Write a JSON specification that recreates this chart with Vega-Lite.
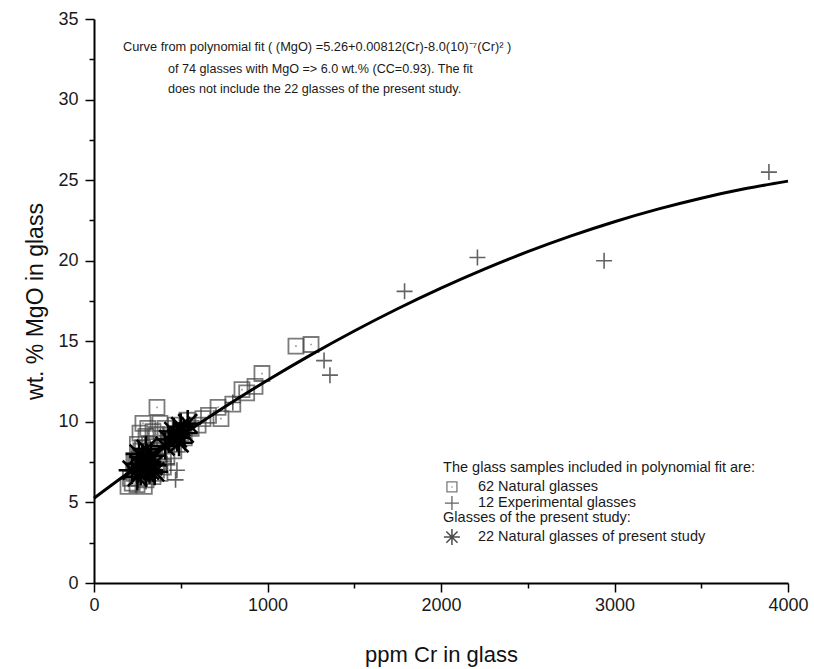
{
  "$schema": "https://vega.github.io/schema/vega-lite/v6.json",
  "width": 694,
  "height": 564,
  "autosize": {"type": "none"},
  "padding": {"left": 94, "top": 19, "right": 26, "bottom": 86},
  "background": "white",
  "config": {
    "view": {"stroke": null},
    "font": "Liberation Sans",
    "text": {"font": "Liberation Sans", "color": "#1a1a1a"}
  },
  "datasets": {
    "glasses": [
      {"group": "natural", "cr": 1164, "mgo": 14.7},
      {"group": "natural", "cr": 1251, "mgo": 14.8},
      {"group": "natural", "cr": 968, "mgo": 13.0},
      {"group": "natural", "cr": 928, "mgo": 12.2},
      {"group": "natural", "cr": 853, "mgo": 12.0},
      {"group": "natural", "cr": 715, "mgo": 10.9},
      {"group": "natural", "cr": 732, "mgo": 10.2},
      {"group": "natural", "cr": 628, "mgo": 10.2},
      {"group": "natural", "cr": 536, "mgo": 10.1},
      {"group": "natural", "cr": 560, "mgo": 9.6},
      {"group": "natural", "cr": 500, "mgo": 9.3},
      {"group": "natural", "cr": 470, "mgo": 9.8},
      {"group": "natural", "cr": 440, "mgo": 9.2},
      {"group": "natural", "cr": 410, "mgo": 9.6},
      {"group": "natural", "cr": 363, "mgo": 10.9},
      {"group": "natural", "cr": 380, "mgo": 9.9},
      {"group": "natural", "cr": 340, "mgo": 9.4},
      {"group": "natural", "cr": 282, "mgo": 9.9},
      {"group": "natural", "cr": 265, "mgo": 9.3},
      {"group": "natural", "cr": 300, "mgo": 9.1},
      {"group": "natural", "cr": 250, "mgo": 8.6},
      {"group": "natural", "cr": 280, "mgo": 8.4},
      {"group": "natural", "cr": 320, "mgo": 8.6},
      {"group": "natural", "cr": 350, "mgo": 8.2},
      {"group": "natural", "cr": 390, "mgo": 8.5},
      {"group": "natural", "cr": 430, "mgo": 8.8},
      {"group": "natural", "cr": 260, "mgo": 7.9},
      {"group": "natural", "cr": 300, "mgo": 7.7},
      {"group": "natural", "cr": 340, "mgo": 7.8},
      {"group": "natural", "cr": 370, "mgo": 7.5},
      {"group": "natural", "cr": 240, "mgo": 7.4},
      {"group": "natural", "cr": 280, "mgo": 7.1},
      {"group": "natural", "cr": 320, "mgo": 7.3},
      {"group": "natural", "cr": 360, "mgo": 7.0},
      {"group": "natural", "cr": 400, "mgo": 7.2},
      {"group": "natural", "cr": 420, "mgo": 7.8},
      {"group": "natural", "cr": 460, "mgo": 8.2},
      {"group": "natural", "cr": 230, "mgo": 6.8},
      {"group": "natural", "cr": 260, "mgo": 6.5},
      {"group": "natural", "cr": 300, "mgo": 6.4},
      {"group": "natural", "cr": 340, "mgo": 6.6},
      {"group": "natural", "cr": 196, "mgo": 6.0},
      {"group": "natural", "cr": 248, "mgo": 6.1},
      {"group": "natural", "cr": 290, "mgo": 6.0},
      {"group": "natural", "cr": 380, "mgo": 6.8},
      {"group": "natural", "cr": 600, "mgo": 9.8},
      {"group": "natural", "cr": 660, "mgo": 10.4},
      {"group": "natural", "cr": 800, "mgo": 11.1},
      {"group": "natural", "cr": 880, "mgo": 11.8},
      {"group": "natural", "cr": 210, "mgo": 6.5},
      {"group": "natural", "cr": 230, "mgo": 7.6},
      {"group": "natural", "cr": 270, "mgo": 8.2},
      {"group": "natural", "cr": 310, "mgo": 9.6},
      {"group": "natural", "cr": 330, "mgo": 8.0},
      {"group": "natural", "cr": 450, "mgo": 9.0},
      {"group": "natural", "cr": 480, "mgo": 8.6},
      {"group": "natural", "cr": 520, "mgo": 9.0},
      {"group": "natural", "cr": 400, "mgo": 8.0},
      {"group": "natural", "cr": 360, "mgo": 9.2},
      {"group": "natural", "cr": 290, "mgo": 6.9},
      {"group": "natural", "cr": 250, "mgo": 7.2},
      {"group": "natural", "cr": 220, "mgo": 6.2},
      {"group": "experimental", "cr": 3890, "mgo": 25.5},
      {"group": "experimental", "cr": 2940, "mgo": 20.0},
      {"group": "experimental", "cr": 2210, "mgo": 20.2},
      {"group": "experimental", "cr": 1790, "mgo": 18.1},
      {"group": "experimental", "cr": 1326, "mgo": 13.8},
      {"group": "experimental", "cr": 1360, "mgo": 12.9},
      {"group": "experimental", "cr": 800, "mgo": 11.2},
      {"group": "experimental", "cr": 478, "mgo": 7.0},
      {"group": "experimental", "cr": 470, "mgo": 6.4},
      {"group": "experimental", "cr": 420, "mgo": 7.4},
      {"group": "experimental", "cr": 350, "mgo": 6.8},
      {"group": "experimental", "cr": 300, "mgo": 6.3},
      {"group": "present", "cr": 220, "mgo": 7.0},
      {"group": "present", "cr": 250, "mgo": 6.6},
      {"group": "present", "cr": 260, "mgo": 7.4},
      {"group": "present", "cr": 270, "mgo": 6.9},
      {"group": "present", "cr": 280, "mgo": 7.8},
      {"group": "present", "cr": 290, "mgo": 7.2},
      {"group": "present", "cr": 300, "mgo": 6.8},
      {"group": "present", "cr": 310, "mgo": 7.5},
      {"group": "present", "cr": 320, "mgo": 7.0},
      {"group": "present", "cr": 330, "mgo": 7.9},
      {"group": "present", "cr": 340, "mgo": 7.3},
      {"group": "present", "cr": 350, "mgo": 6.9},
      {"group": "present", "cr": 300, "mgo": 8.3},
      {"group": "present", "cr": 260, "mgo": 8.0},
      {"group": "present", "cr": 430, "mgo": 8.9},
      {"group": "present", "cr": 460, "mgo": 9.4},
      {"group": "present", "cr": 480, "mgo": 9.0},
      {"group": "present", "cr": 500, "mgo": 9.7},
      {"group": "present", "cr": 520, "mgo": 9.3},
      {"group": "present", "cr": 540, "mgo": 9.9},
      {"group": "present", "cr": 490, "mgo": 8.7},
      {"group": "present", "cr": 410, "mgo": 8.5}
    ],
    "fit": [
      {"cr": 0, "mgo": 5.26},
      {"cr": 250, "mgo": 7.24},
      {"cr": 500, "mgo": 9.12},
      {"cr": 750, "mgo": 10.9},
      {"cr": 1000, "mgo": 12.58},
      {"cr": 1250, "mgo": 14.16},
      {"cr": 1500, "mgo": 15.64},
      {"cr": 1750, "mgo": 17.02},
      {"cr": 2000, "mgo": 18.3},
      {"cr": 2250, "mgo": 19.48},
      {"cr": 2500, "mgo": 20.56},
      {"cr": 2750, "mgo": 21.54},
      {"cr": 3000, "mgo": 22.42},
      {"cr": 3250, "mgo": 23.2},
      {"cr": 3500, "mgo": 23.88},
      {"cr": 3750, "mgo": 24.46},
      {"cr": 4000, "mgo": 24.94}
    ],
    "one": [{}]
  },
  "layer": [
    {
      "data": {"name": "glasses"},
      "transform": [{"filter": "datum.group === 'natural'"}],
      "mark": {"type": "point", "shape": "square", "filled": false, "size": 225, "stroke": "#444", "strokeWidth": 1.8, "clip": false},
      "encoding": {
        "x": {
          "field": "cr", "type": "quantitative",
          "scale": {"domain": [0, 4000], "nice": false, "zero": true},
          "axis": {
            "title": "ppm Cr in glass",
            "titleFont": "Liberation Sans", "titleFontSize": 22, "titleFontWeight": "normal", "titleColor": "#111", "titlePadding": 30,
            "values": [0, 500, 1000, 1500, 2000, 2500, 3000, 3500, 4000],
            "labelExpr": "datum.value % 1000 === 0 ? datum.label : ''",
            "format": "d",
            "labelFont": "Liberation Sans", "labelFontSize": 18, "labelColor": "#1a1a1a", "labelPadding": 4,
            "labelFlush": false, "labelOverlap": false,
            "grid": false,
            "domainColor": "#000", "domainWidth": 2,
            "tickColor": "#000", "tickWidth": 1.5,
            "tickSize": {"condition": {"test": "datum.value % 1000 !== 0", "value": 5}, "value": 9}
          }
        },
        "y": {
          "field": "mgo", "type": "quantitative",
          "scale": {"domain": [0, 35], "nice": false, "zero": true},
          "axis": {
            "title": "wt. % MgO in glass",
            "titleFont": "Liberation Sans", "titleFontSize": 23, "titleFontWeight": "normal", "titleColor": "#111", "titlePadding": 10,
            "values": [0, 2.5, 5, 7.5, 10, 12.5, 15, 17.5, 20, 22.5, 25, 27.5, 30, 32.5, 35],
            "labelExpr": "datum.value % 5 === 0 ? datum.label : ''",
            "labelFont": "Liberation Sans", "labelFontSize": 18, "labelColor": "#1a1a1a", "labelPadding": 7,
            "labelFlush": false, "labelOverlap": false,
            "grid": false,
            "domainColor": "#000", "domainWidth": 2,
            "tickColor": "#000", "tickWidth": 1.5,
            "tickSize": {"condition": {"test": "datum.value % 5 !== 0", "value": 5}, "value": 9}
          }
        }
      }
    },
    {
      "data": {"name": "glasses"},
      "transform": [{"filter": "datum.group === 'natural'"}],
      "mark": {"type": "point", "shape": "square", "filled": true, "size": 3, "color": "#777"},
      "encoding": {
        "x": {"field": "cr", "type": "quantitative"},
        "y": {"field": "mgo", "type": "quantitative"}
      }
    },
    {
      "data": {"name": "glasses"},
      "transform": [{"filter": "datum.group === 'experimental'"}],
      "mark": {"type": "point", "shape": "M-1,0L1,0M0,-1L0,1", "filled": false, "size": 256, "stroke": "#222", "strokeWidth": 1.6},
      "encoding": {
        "x": {"field": "cr", "type": "quantitative"},
        "y": {"field": "mgo", "type": "quantitative"}
      }
    },
    {
      "data": {"name": "glasses"},
      "transform": [{"filter": "datum.group === 'present'"}],
      "mark": {"type": "point", "shape": "M-1,0L1,0M0,-1L0,1M-0.7,-0.7L0.7,0.7M-0.7,0.7L0.7,-0.7", "filled": false, "size": 729, "stroke": "#000", "strokeWidth": 2.5, "opacity": 1},
      "encoding": {
        "x": {"field": "cr", "type": "quantitative"},
        "y": {"field": "mgo", "type": "quantitative"}
      }
    },
    {
      "data": {"name": "fit"},
      "mark": {"type": "line", "color": "#000", "strokeWidth": 3, "interpolate": "monotone"},
      "encoding": {
        "x": {"field": "cr", "type": "quantitative"},
        "y": {"field": "mgo", "type": "quantitative"}
      }
    },
    {
      "data": {"name": "one"},
      "layer": [
        {
          "mark": {"type": "text", "align": "left", "baseline": "middle", "fontSize": 12.8},
          "encoding": {
            "x": {"datum": 167, "type": "quantitative"},
            "y": {"datum": 33.26, "type": "quantitative"},
            "text": {"value": "Curve from polynomial fit ( (MgO) =5.26+0.00812(Cr)-8.0(10)⁻⁷(Cr)² )"}
          }
        },
        {
          "mark": {"type": "text", "align": "left", "baseline": "middle", "fontSize": 12.6},
          "encoding": {
            "x": {"datum": 427, "type": "quantitative"},
            "y": {"datum": 31.9, "type": "quantitative"},
            "text": {"value": "of 74 glasses with MgO => 6.0 wt.% (CC=0.93). The fit"}
          }
        },
        {
          "mark": {"type": "text", "align": "left", "baseline": "middle", "fontSize": 12.6},
          "encoding": {
            "x": {"datum": 427, "type": "quantitative"},
            "y": {"datum": 30.66, "type": "quantitative"},
            "text": {"value": "does not include the 22 glasses of the present study."}
          }
        },
        {
          "mark": {"type": "text", "align": "left", "baseline": "middle", "fontSize": 14.5},
          "encoding": {
            "x": {"datum": 2012, "type": "quantitative"},
            "y": {"datum": 7.14, "type": "quantitative"},
            "text": {"value": "The glass samples included in polynomial fit are:"}
          }
        },
        {
          "mark": {"type": "point", "shape": "square", "filled": false, "size": 100, "stroke": "#444", "strokeWidth": 1.3},
          "encoding": {
            "x": {"datum": 2063, "type": "quantitative"},
            "y": {"datum": 5.96, "type": "quantitative"}
          }
        },
        {
          "mark": {"type": "point", "shape": "square", "filled": true, "size": 2, "color": "#777"},
          "encoding": {
            "x": {"datum": 2063, "type": "quantitative"},
            "y": {"datum": 5.96, "type": "quantitative"}
          }
        },
        {
          "mark": {"type": "text", "align": "left", "baseline": "middle", "fontSize": 14.5},
          "encoding": {
            "x": {"datum": 2213, "type": "quantitative"},
            "y": {"datum": 5.96, "type": "quantitative"},
            "text": {"value": "62 Natural glasses"}
          }
        },
        {
          "mark": {"type": "point", "shape": "M-1,0L1,0M0,-1L0,1", "filled": false, "size": 196, "stroke": "#222", "strokeWidth": 1.3},
          "encoding": {
            "x": {"datum": 2063, "type": "quantitative"},
            "y": {"datum": 4.96, "type": "quantitative"}
          }
        },
        {
          "mark": {"type": "text", "align": "left", "baseline": "middle", "fontSize": 14.5},
          "encoding": {
            "x": {"datum": 2213, "type": "quantitative"},
            "y": {"datum": 4.96, "type": "quantitative"},
            "text": {"value": "12 Experimental glasses"}
          }
        },
        {
          "mark": {"type": "text", "align": "left", "baseline": "middle", "fontSize": 14.5},
          "encoding": {
            "x": {"datum": 2012, "type": "quantitative"},
            "y": {"datum": 4.03, "type": "quantitative"},
            "text": {"value": "Glasses of the present study:"}
          }
        },
        {
          "mark": {"type": "point", "shape": "M-1,0L1,0M0,-1L0,1M-0.7,-0.7L0.7,0.7M-0.7,0.7L0.7,-0.7", "filled": false, "size": 256, "stroke": "#000", "strokeWidth": 1.5},
          "encoding": {
            "x": {"datum": 2063, "type": "quantitative"},
            "y": {"datum": 2.85, "type": "quantitative"}
          }
        },
        {
          "mark": {"type": "text", "align": "left", "baseline": "middle", "fontSize": 14.5},
          "encoding": {
            "x": {"datum": 2213, "type": "quantitative"},
            "y": {"datum": 2.85, "type": "quantitative"},
            "text": {"value": "22 Natural glasses of present study"}
          }
        }
      ]
    }
  ]
}
